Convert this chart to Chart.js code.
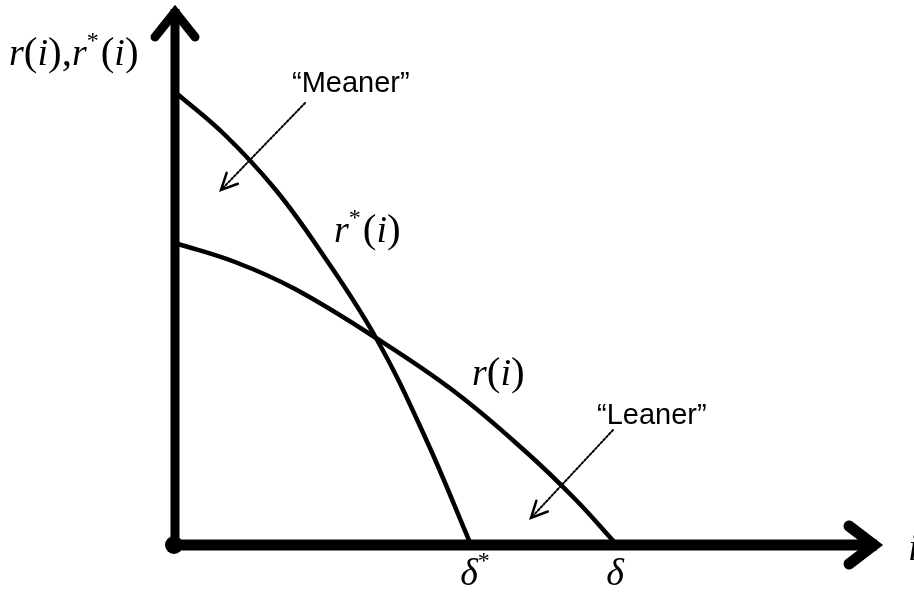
<!DOCTYPE html>
<html>
<head>
<meta charset="utf-8">
<script src="https://cdn.jsdelivr.net/npm/chart.js@4/dist/chart.umd.min.js"></script>
<style>
  body { margin: 0; background: #fff; }
</style>
</head>
<body>
<canvas id="chart" width="914" height="594"></canvas>
<script>
// r*(i) - the "meaner" curve
const rStarI   = [0, 5, 10, 14.4, 20.1, 25, 29.6];
const rStarVal = [45.3, 41.0, 35.6, 29.6, 20.7, 10.8, 0];
// r(i) - the "leaner" curve
const rI   = [0, 6, 12, 20.1, 28, 35, 40, 44.2];
const rVal = [30.2, 28.3, 25.6, 20.7, 15.3, 9.4, 4.6, 0];
// labels under the i axis (where each curve hits zero)
const tickLabels = ['δ', 'δ'];
const tickStars  = [true, false];
const tickPos    = [rStarI[rStarI.length - 1], rI[rI.length - 1]];

function toPoints(xs, ys) {
    return xs.map((x, k) => ({ x: x, y: ys[k] }));
}

const SERIF_IT = 'italic 38px "Liberation Serif", "DejaVu Serif", serif';
const SERIF_UP = '41px "Liberation Serif", "DejaVu Serif", serif';
const SERIF_SUP = '24px "Liberation Serif", "DejaVu Serif", serif';
const SANS = '29px "Liberation Sans", Arial, sans-serif';

// draws a little formula made of pieces: [text, kind]
function drawMath(ctx, parts, x, y) {
    ctx.textBaseline = 'alphabetic';
    ctx.textAlign = 'left';
    for (const [t, kind] of parts) {
        let dy = 0;
        if (kind === 'it') ctx.font = SERIF_IT;
        else if (kind === 'sup') { ctx.font = SERIF_SUP; dy = -17; }
        else ctx.font = SERIF_UP;
        ctx.fillText(t, x, y + dy);
        x += ctx.measureText(t).width + (kind === 'sup' ? 2 : 0);
    }
}

function dottedArrow(ctx, x1, y1, x2, y2) {
    ctx.save();
    ctx.strokeStyle = '#000';
    ctx.lineWidth = 2;
    ctx.setLineDash([2, 2]);
    ctx.beginPath();
    ctx.moveTo(x1, y1);
    ctx.lineTo(x2, y2);
    ctx.stroke();
    ctx.setLineDash([]);
    const a = Math.atan2(y2 - y1, x2 - x1);
    const len = 18, spread = 0.45;
    ctx.lineWidth = 2.5;
    ctx.beginPath();
    ctx.moveTo(x2 - len * Math.cos(a - spread), y2 - len * Math.sin(a - spread));
    ctx.lineTo(x2, y2);
    ctx.lineTo(x2 - len * Math.cos(a + spread), y2 - len * Math.sin(a + spread));
    ctx.stroke();
    ctx.restore();
}

const axesPlugin = {
    id: 'axesPlugin',
    afterDatasetsDraw(chart) {
        const ctx = chart.ctx;
        const sx = chart.scales.x, sy = chart.scales.y;
        const px = v => sx.getPixelForValue(v);
        const py = v => sy.getPixelForValue(v);
        const x0 = px(0), y0 = py(0);
        const xEnd = px(sx.max), yTop = py(sy.max);

        ctx.save();
        ctx.strokeStyle = '#000';
        ctx.fillStyle = '#000';

        // vertical axis with arrow
        ctx.lineWidth = 9;
        ctx.lineCap = 'butt';
        ctx.beginPath();
        ctx.moveTo(x0, y0);
        ctx.lineTo(x0, yTop + 4);
        ctx.stroke();
        ctx.lineJoin = 'miter';
        ctx.lineCap = 'round';
        ctx.beginPath();
        ctx.moveTo(x0 - 20, yTop + 32);
        ctx.lineTo(x0, yTop + 7);
        ctx.lineTo(x0 + 20, yTop + 32);
        ctx.stroke();

        // horizontal axis with arrow
        ctx.lineWidth = 11;
        ctx.lineCap = 'butt';
        ctx.beginPath();
        ctx.moveTo(x0, y0);
        ctx.lineTo(xEnd - 8, y0);
        ctx.stroke();
        ctx.lineCap = 'round';
        ctx.beginPath();
        ctx.moveTo(xEnd - 36, y0 - 19);
        ctx.lineTo(xEnd - 11, y0);
        ctx.lineTo(xEnd - 36, y0 + 19);
        ctx.stroke();

        // dot at origin
        ctx.beginPath();
        ctx.arc(x0 - 1, y0, 9, 0, Math.PI * 2);
        ctx.fill();

        // axis titles
        drawMath(ctx, [['r', 'it'], ['(', 'up'], ['i', 'it'], [')', 'up'], [',', 'up'],
                       ['r', 'it'], ['*', 'sup'], ['(', 'up'], ['i', 'it'], [')', 'up']],
                 px(-16.6), py(4.8 * 10));
        drawMath(ctx, [['i', 'it']], xEnd + 23, y0 + 15);

        // zero crossings under the axis
        tickPos.forEach((v, k) => {
            ctx.font = SERIF_IT;
            const w = ctx.measureText(tickLabels[k]).width;
            const parts = [[tickLabels[k], 'it']];
            if (tickStars[k]) parts.push(['*', 'sup']);
            drawMath(ctx, parts, px(v) - w / 2 - 2, y0 + 40);
        });

        // curve labels
        drawMath(ctx, [['r', 'it'], ['*', 'sup'], ['(', 'up'], ['i', 'it'], [')', 'up']], px(15.9), py(30.3));
        drawMath(ctx, [['r', 'it'], ['(', 'up'], ['i', 'it'], [')', 'up']], px(29.7), py(16));

        // annotations
        ctx.font = SANS;
        ctx.textAlign = 'left';
        ctx.fillText('\u201CMeaner\u201D', px(11.7), py(45.3));
        ctx.fillText('\u201CLeaner\u201D', px(42.2), py(12.1));
        dottedArrow(ctx, px(13.0), py(44.2), px(4.6), py(35.5));
        dottedArrow(ctx, px(43.8), py(11.5), px(35.6), py(2.7));

        ctx.restore();
    }
};

const ctx = document.getElementById('chart').getContext('2d');
new Chart(ctx, {
    type: 'scatter',
    data: {
        datasets: [{
            label: 'r*(i)',
            data: toPoints(rStarI, rStarVal),
            showLine: true,
            borderColor: '#000',
            borderWidth: 4.5,
            pointRadius: 0,
            tension: 0.4,
            clip: false
        }, {
            label: 'r(i)',
            data: toPoints(rI, rVal),
            showLine: true,
            borderColor: '#000',
            borderWidth: 4.5,
            pointRadius: 0,
            tension: 0.4,
            clip: false
        }]
    },
    options: {
        responsive: false,
        animation: false,
        layout: { padding: { left: 175, right: 29, top: 5, bottom: 49 } },
        plugins: { legend: { display: false }, tooltip: { enabled: false } },
        scales: {
            x: { type: 'linear', min: 0, max: 71, display: false },
            y: { type: 'linear', min: 0, max: 54, display: false }
        }
    },
    plugins: [axesPlugin]
});
</script>
</body>
</html>
